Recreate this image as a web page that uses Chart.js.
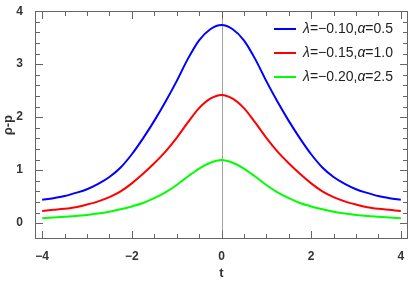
<!DOCTYPE html>
<html>
<head>
<meta charset="utf-8">
<script src="https://cdn.jsdelivr.net/npm/chart.js@4"></script>
<style>
  body { margin: 0; background: #fff; }
  canvas { display: block; }
</style>
</head>
<body>
<canvas id="rhoChart" width="409" height="284"></canvas>
<script>
// t samples
const tValues = [-4, -3.75, -3.5, -3.25, -3, -2.75, -2.5, -2.25, -2, -1.75, -1.5, -1.25, -1, -0.75, -0.5, -0.25, 0,
    0.25, 0.5, 0.75, 1, 1.25, 1.5, 1.75, 2, 2.25, 2.5, 2.75, 3, 3.25, 3.5, 3.75, 4];

// rho - p
const blueValues = [0.44, 0.47, 0.51, 0.57, 0.64, 0.74, 0.87, 1.05, 1.30, 1.60, 1.93, 2.29, 2.68, 3.10, 3.45, 3.66, 3.74,
    3.66, 3.45, 3.10, 2.68, 2.29, 1.93, 1.60, 1.30, 1.05, 0.87, 0.74, 0.64, 0.57, 0.51, 0.47, 0.44];
const redValues = [0.23, 0.25, 0.27, 0.30, 0.35, 0.41, 0.49, 0.60, 0.75, 0.93, 1.13, 1.35, 1.61, 1.90, 2.17, 2.35, 2.42,
    2.35, 2.17, 1.90, 1.61, 1.35, 1.13, 0.93, 0.75, 0.60, 0.49, 0.41, 0.35, 0.30, 0.27, 0.25, 0.23];
const greenValues = [0.093, 0.105, 0.12, 0.135, 0.155, 0.18, 0.215, 0.26, 0.315, 0.38, 0.47, 0.58, 0.72, 0.88, 1.03, 1.14, 1.19,
    1.14, 1.03, 0.88, 0.72, 0.58, 0.47, 0.38, 0.315, 0.26, 0.215, 0.18, 0.155, 0.135, 0.12, 0.105, 0.093];

const lambdas = ["\u22120.10", "\u22120.15", "\u22120.20"];
const alphas = ["0.5", "1.0", "2.5"];
const colors = ["#0000ff", "#ff0000", "#00ff00"];

const xTickLabels = [-4, -2, 0, 2, 4];
const yTickLabels = [0, 1, 2, 3, 4];
const xMinorStep = 0.5, yMinorStep = 0.2;

function fmt(v) {
    return v < 0 ? "\u2212" + Math.abs(v) : String(v);
}

function toPoints(vals) {
    return tValues.map((t, i) => ({ x: t, y: vals[i] }));
}

const seriesValues = [blueValues, redValues, greenValues];

// frame, inward ticks, zero line, legend
const framePlugin = {
    id: "frame",
    beforeDatasetsDraw(chart) {
        const ctx = chart.ctx, x = chart.scales.x, a = chart.chartArea;
        ctx.save();
        ctx.fillStyle = "#a0a0a0";
        ctx.fillRect(Math.round(x.getPixelForValue(0)), a.top, 1, a.bottom - a.top);
        ctx.restore();
    },
    afterDraw(chart) {
        const ctx = chart.ctx, x = chart.scales.x, y = chart.scales.y, a = chart.chartArea;
        ctx.save();
        const L = Math.round(a.left), R = Math.round(a.right) - 1;
        const T = Math.round(a.top), B = Math.round(a.bottom) - 1;
        ctx.fillStyle = "#666";
        // x ticks: minor every 0.5, major every 2
        for (let k = 0; k <= 16; k++) {
            const v = -4 + k * xMinorStep;
            const len = (k % 4 === 0) ? 7 : 4;
            const p = Math.round(x.getPixelForValue(v));
            ctx.fillRect(p, B - len, 1, len);
            ctx.fillRect(p, T + 1, 1, len);
        }
        // y ticks: minor every 0.2, major every 1
        for (let k = 0; k <= 20; k++) {
            const v = k * yMinorStep;
            const len = (k % 5 === 0) ? 7 : 4;
            const p = Math.round(y.getPixelForValue(v));
            ctx.fillRect(L + 1, p, len, 1);
            ctx.fillRect(R - len, p, len, 1);
        }
        ctx.fillRect(L, T, R - L + 1, 1);
        ctx.fillRect(L, B, R - L + 1, 1);
        ctx.fillRect(L, T, 1, B - T + 1);
        ctx.fillRect(R, T, 1, B - T + 1);

        // legend
        ctx.textBaseline = "middle";
        for (let i = 0; i < lambdas.length; i++) {
            const ly = 29 + i * 24;
            ctx.fillStyle = colors[i];
            ctx.fillRect(274, ly - 1, 22, 2);
            let tx = 303;
            const parts = [
                ["italic 14px 'Liberation Sans'", "\u03bb"],
                ["14px 'Liberation Sans'", "=" + lambdas[i] + ","],
                ["italic 14px 'Liberation Sans'", "\u03b1"],
                ["14px 'Liberation Sans'", "=" + alphas[i]]
            ];
            ctx.fillStyle = "#222";
            parts.forEach(([f, s]) => {
                ctx.font = f;
                ctx.fillText(s, tx, ly);
                tx += ctx.measureText(s).width;
            });
        }
        ctx.restore();
    }
};

const tickFont = { family: "'Liberation Sans'", size: 12, weight: "bold" };

new Chart(document.getElementById("rhoChart"), {
    type: "line",
    data: {
        datasets: seriesValues.map((vals, i) => ({
            label: "\u03bb=" + lambdas[i] + ",\u03b1=" + alphas[i],
            data: toPoints(vals),
            borderColor: colors[i],
            borderWidth: 2,
            pointRadius: 0,
            fill: false,
            cubicInterpolationMode: "monotone"
        }))
    },
    options: {
        responsive: false,
        animation: false,
        devicePixelRatio: 1,
        layout: { padding: { top: 9, right: 1, left: 0, bottom: 0 } },
        plugins: { legend: { display: false }, tooltip: { enabled: false } },
        scales: {
            x: {
                type: "linear",
                min: -4.16,
                max: 4.16,
                grid: { display: false },
                border: { display: false },
                afterBuildTicks(scale) { scale.ticks = xTickLabels.map(v => ({ value: v })); },
                ticks: {
                    autoSkip: false,
                    maxRotation: 0,
                    padding: 2,
                    color: "#333",
                    font: tickFont,
                    callback: v => fmt(v)
                },
                title: { display: true, text: "t", color: "#333", font: { family: "'Liberation Sans'", size: 13, weight: "bold" }, padding: { top: 4, bottom: 3 } },
                afterFit(scale) { scale.height = 45; }
            },
            y: {
                min: -0.3,
                max: 4,
                grid: { display: false },
                border: { display: false },
                afterBuildTicks(scale) { scale.ticks = yTickLabels.map(v => ({ value: v })); },
                ticks: {
                    autoSkip: false,
                    padding: 4,
                    color: "#333",
                    font: tickFont,
                    callback: v => fmt(v)
                },
                title: { display: true, text: "\u03c1-p", color: "#333", font: { family: "'Liberation Sans'", size: 13, weight: "bold" }, padding: { top: 1, bottom: 2 } },
                afterFit(scale) { scale.width = 35; }
            }
        }
    },
    plugins: [framePlugin]
});
</script>
</body>
</html>
